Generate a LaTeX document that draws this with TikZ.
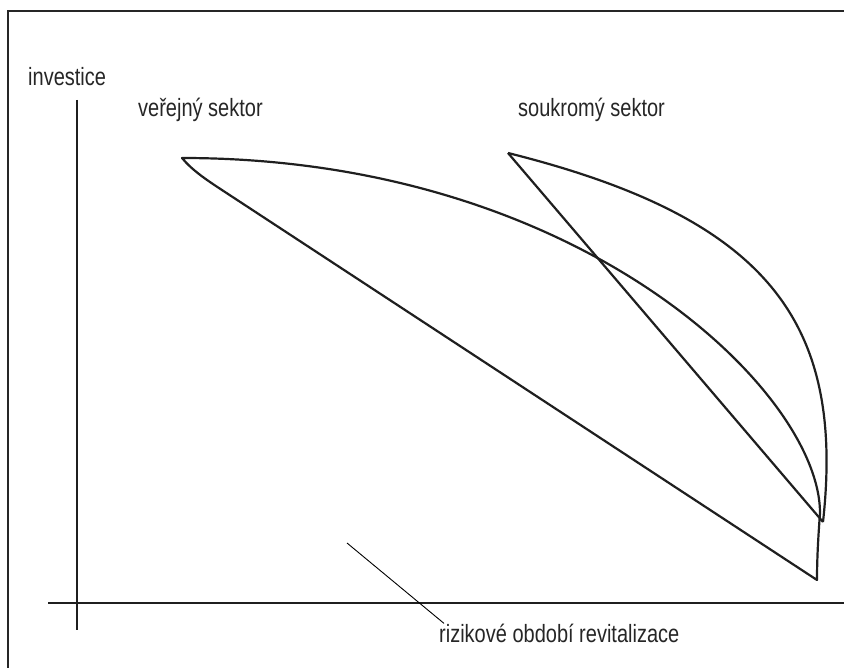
\documentclass[tikz,border=0pt]{standalone}
\usepackage{fontspec}
\setmainfont[FakeStretch=0.8]{Liberation Sans}
\usepackage{tikz}

\begin{document}
\begin{tikzpicture}[x=1pt, y=-1pt,
    krivka/.style={line width=2.2pt, line join=round, color=black!88},
    osa/.style={line width=2.6pt, color=black!88},
    popis/.style={inner sep=0pt, anchor=base west, font=\fontsize{25}{28}\selectfont, text=black!85}]
                \useasboundingbox (0, 0) rectangle (844, 668);

                \draw[line width=2.8pt, color=black!85] (8, 668) -- (8, 11) -- (844, 11);

                \node[popis] (investice) at (28, 86) {investice};
                \node[popis] (verejny) at (138, 117) {veřejný sektor};
                \node[popis] (soukromy) at (518, 117) {soukromý sektor};
                \node[popis] (obdobi) at (439, 642) {rizikové období revitalizace};

                \coordinate (ytop) at (77, 100);
                \coordinate (ybot) at (77, 630);
                \coordinate (xl) at (48, 603);
                \coordinate (xr) at (844, 603);
                \draw[osa] (ytop) -- (ybot);
                \draw[osa] (xl) -- (xr);

                \coordinate (vA) at (182, 158);
                \coordinate (vB) at (817, 580);
                \coordinate (vC) at (820, 513);
                \draw[krivka] (vA) .. controls (192, 170) and (205, 179) .. (225, 192) -- (vB)
                    .. controls (817, 560) and (818, 540) .. (vC)
                    .. controls (820, 393) and (582, 158) .. cycle;

                \coordinate (sP) at (508, 153);
                \coordinate (sQ) at (823, 522);
                \draw[krivka] (sP) -- (sQ);
                \draw[krivka] (sP) .. controls (768, 218) and (845, 322) .. (sQ);

                \coordinate (odkaz) at (347, 543);
                \draw[line width=0.9pt] (odkaz) -- ([xshift=5pt]obdobi.north west);
            \end{tikzpicture}
\end{document}
